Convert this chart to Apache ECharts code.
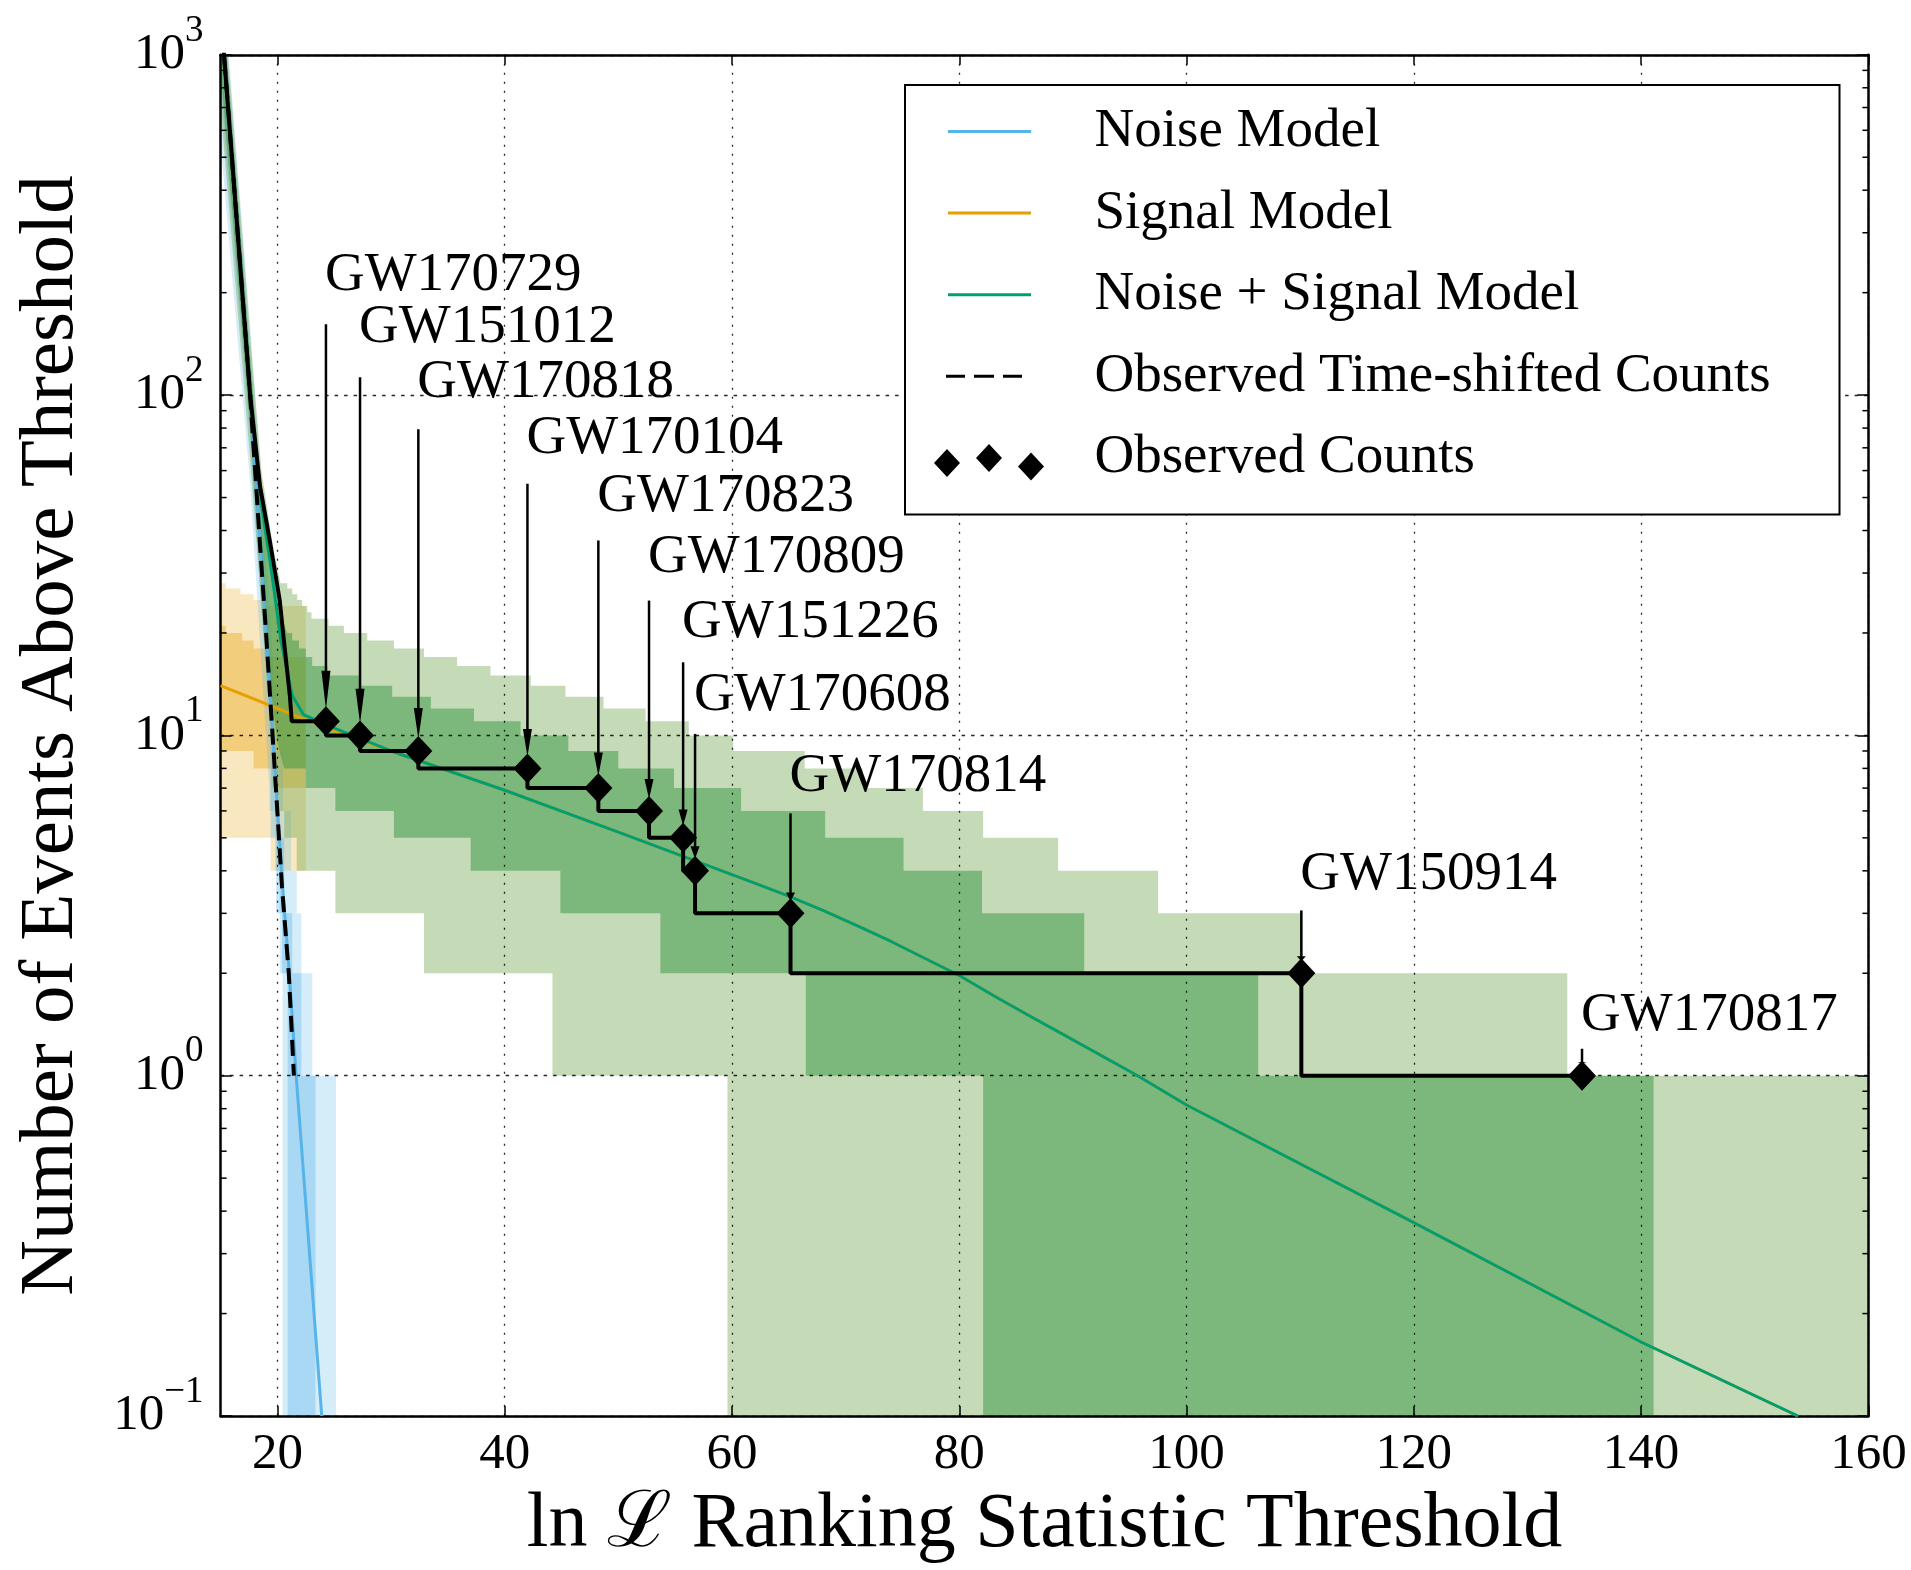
<!DOCTYPE html>
<html><head><meta charset="utf-8">
<script src="https://cdn.jsdelivr.net/npm/echarts@6/dist/echarts.min.js"></script>
<style>html,body{margin:0;padding:0;background:#fff}#c{width:1911px;height:1570px}</style>
</head><body><div id="c"></div>
<script>
// ---------------- DATA ----------------
const xTicks = [20, 40, 60, 80, 100, 120, 140, 160];

// model lines
const noiseX = [15, 17.6, 18.5, 19.4, 20.4, 21.0, 21.65, 23.9];
const noiseY = [1350, 100, 36, 12.5, 3.8, 2.1, 1.0, 0.1];
const signalX = [15, 20, 24, 30, 40, 50, 60, 62, 65, 68, 71, 74, 77, 80, 83, 86, 88.3, 95.7, 100, 120, 140, 153.8];
const signalY = [14, 12.0, 10.6, 9.0, 6.9, 5.2, 3.9, 3.68, 3.37, 3.06, 2.76, 2.48, 2.21, 1.97, 1.72, 1.51, 1.37, 1.0, 0.82, 0.37, 0.165, 0.1];
const nsX = [15, 17.6, 18.5, 19.5, 20.3, 21.3, 22.3, 24.4, 30, 40, 50, 60, 62, 65, 68, 71, 74, 77, 80, 83, 86, 88.3, 95.7, 100, 120, 140, 153.8];
const nsY = [1350, 100, 50, 30, 19, 13.1, 11.5, 10.7, 9.0, 6.9, 5.2, 3.9, 3.68, 3.37, 3.06, 2.76, 2.48, 2.21, 1.97, 1.72, 1.51, 1.37, 1.0, 0.82, 0.37, 0.165, 0.1];
const shiftedX = [15, 17.6, 18.5, 19.0, 19.7, 20.4, 21.0, 21.45];
const shiftedY = [1350, 100, 35, 20, 8.6, 3.6, 2.0, 1.0];

// observed counts
const obsSteepX = [15, 17.6, 18.47, 19.35, 20.2, 20.5, 21.1, 21.26];
const obsSteepY = [1350, 100, 54, 37, 25, 20, 13, 11];
const eventNames = ['GW170729', 'GW151012', 'GW170818', 'GW170104', 'GW170823', 'GW170809', 'GW151226', 'GW170608', 'GW170814', 'GW150914', 'GW170817'];
const eventX = [24.27, 27.27, 32.4, 42.0, 48.24, 52.7, 55.7, 56.75, 65.15, 110.1, 134.8];
const eventCount = [11, 10, 9, 8, 7, 6, 5, 4, 3, 2, 1];
// annotation anchors (data coordinates)
const labelY = [224, 157.6, 109.2, 74.6, 50.4, 33.2, 21.4, 13.1, 7.57, 3.89, 1.505];
const arrowTopY = [161.6, 112.8, 79.4, 54.9, 37.4, 24.9, 16.4, 10.1, 5.9, 3.06, 1.2];

// bands: steep part (polyline points) + step part (edges X, levels Y)
// Signal model
const sigHi2X = [15, 15.45, 16.75, 17.9, 18.8, 22.5];
const sigHi2Y = [28, 27, 26, 25, 24];
const sigLo2X = [15, 19.4, 22.5];
const sigLo2Y = [5, 4];
const sigHi1X = [15, 15.45, 16.9, 17.9, 19.1, 22.5];
const sigHi1Y = [21, 20, 19, 18, 17];
const sigLo1X = [15, 17.9, 19.5, 22.5];
const sigLo1Y = [9, 8, 7];
// Noise model
const noiseHi2Steep = [[15, 2000], [17.6, 160], [18.5, 60], [19.4, 22], [19.9, 11]];
const noiseHi2X = [19.9, 20.5, 21.2, 21.7, 22.1, 23.07, 25.15];
const noiseHi2Y = [9, 6, 4, 3, 2, 1];
const noiseLo2Steep = [[15, 550], [17.6, 55], [18.5, 18], [19.3, 7]];
const noiseLo2X = [19.3, 19.8, 20.2, 20.45, 25.15];
const noiseLo2Y = [6, 4, 2, 0];
const noiseHi1Steep = [[15, 1600], [17.6, 125], [18.5, 45], [19.4, 16], [20.0, 7]];
const noiseHi1X = [20.0, 20.6, 21.3, 22.1, 23.35];
const noiseHi1Y = [5, 3, 2, 1];
const noiseLo1Steep = [[15, 800], [17.6, 75], [18.5, 26], [19.4, 9.5]];
const noiseLo1X = [19.4, 19.9, 20.4, 20.9, 23.35];
const noiseLo1Y = [5, 3, 2, 0];
// Noise + Signal model
const nsHi2Steep = [[15, 1900], [17.6, 150], [18.6, 60], [19.6, 36], [20.28, 28]];
const nsHi2X = [20.28, 20.87, 21.3, 21.74, 22.18, 22.62, 23.0, 24.5, 25.85, 27.9, 30.25, 32.9, 35.8, 38.75, 42.3, 45.35, 48.7, 52.4, 56.2, 60.1, 66.4, 71.5, 76.8, 82.1, 88.7, 97.5, 110.2, 133.5, 160];
const nsHi2Y = [28, 27, 26, 25, 24, 23, 22, 21, 20, 19, 18, 17, 16, 15, 14, 13, 12, 11, 10, 9, 8, 7, 6, 5, 4, 3, 2, 1];
const nsLo2Steep = [[15, 700], [17.6, 65], [18.5, 26], [19.4, 11], [20.0, 7]];
const nsLo2X = [20.0, 20.6, 21.7, 25.1, 32.9, 44.2, 59.6, 160];
const nsLo2Y = [6, 5, 4, 3, 2, 1, 0];
const nsHi1Steep = [[15, 1700], [17.6, 130], [18.6, 50], [19.6, 30], [20.4, 22], [20.87, 20]];
const nsHi1X = [20.87, 21.3, 21.9, 22.5, 23.06, 24.4, 27.2, 30.1, 33.5, 37.3, 41.4, 45.6, 50.0, 54.9, 60.8, 68.2, 75.1, 82.0, 91.0, 106.3, 141.1];
const nsHi1Y = [20, 19, 18, 17, 16, 15, 14, 13, 12, 11, 10, 9, 8, 7, 6, 5, 4, 3, 2, 1];
const nsLo1Steep = [[15, 900], [17.6, 80], [18.5, 32], [19.4, 14], [20.0, 9.5], [20.6, 8]];
const nsLo1X = [20.6, 22.5, 25.1, 30.25, 37.0, 44.9, 53.7, 66.5, 82.1, 141.1];
const nsLo1Y = [8, 7, 6, 5, 4, 3, 2, 1, 0];

// ---------------- BUILD ----------------
const F = "'Liberation Serif', 'DejaVu Serif', serif";
const FLOOR = 0.02;
const zip = (xs, ys) => xs.map((x, i) => [x, ys[i]]);
function stepEdge(steep, xs, ys) {
  const pts = steep.map(p => [p[0], p[1]]);
  for (let i = 0; i < ys.length; i++) { pts.push([xs[i], ys[i]]); pts.push([xs[i + 1], ys[i]]); }
  return pts.map(p => [p[0], Math.max(p[1], FLOOR)]);
}
function bandPoly(hs, hx, hy, ls, lx, ly) {
  return stepEdge(hs, hx, hy).concat(stepEdge(ls, lx, ly).reverse());
}
const bandDefs = [
  { poly: bandPoly([], sigHi2X, sigHi2Y, [], sigLo2X, sigLo2Y), fill: 'rgba(230,159,0,0.25)' },
  { poly: bandPoly([], sigHi1X, sigHi1Y, [], sigLo1X, sigLo1Y), fill: 'rgba(230,159,0,0.35)' },
  { poly: bandPoly(noiseHi2Steep, noiseHi2X, noiseHi2Y, noiseLo2Steep, noiseLo2X, noiseLo2Y), fill: 'rgba(86,180,233,0.25)' },
  { poly: bandPoly(noiseHi1Steep, noiseHi1X, noiseHi1Y, noiseLo1Steep, noiseLo1X, noiseLo1Y), fill: 'rgba(86,180,233,0.35)' },
  { poly: bandPoly(nsHi2Steep, nsHi2X, nsHi2Y, nsLo2Steep, nsLo2X, nsLo2Y), fill: 'rgba(110,165,75,0.40)' },
  { poly: bandPoly(nsHi1Steep, nsHi1X, nsHi1Y, nsLo1Steep, nsLo1X, nsLo1Y), fill: 'rgba(51,149,65,0.50)' }
];

const obsLine = zip(obsSteepX, obsSteepY);
eventX.forEach((x, i) => {
  obsLine.push([x, eventCount[i]]);
  if (i < eventX.length - 1) obsLine.push([x, eventCount[i + 1]]);
});

const CORNERS = 'M0,0L0.01,0L0,0.01Z M110,50L109.99,50L110,49.99Z ';
const ICON_SOLID = 'path://' + CORNERS + 'M14,23.5H97V26.5H14Z';
const ICON_DASH = 'path://' + CORNERS + 'M12,23.5H31V26.5H12Z M40,23.5H60V26.5H40Z M69,23.5H88V26.5H69Z';
const ICON_DIAM = 'path://' + CORNERS + 'M0,30L13,16L26,30L13,44Z M42,25L55,11L68,25L55,39Z M84,33.5L97,19.5L110,33.5L97,47.5Z';

const gridLine = { color: '#000', width: 1.3, opacity: 0.85 };

const chart = echarts.init(document.getElementById('c'), null, { renderer: 'canvas' });
chart.setOption({
  animation: false,
  backgroundColor: '#fff',
  grid: { left: 220.6, right: 42.6, top: 54.8, bottom: 141.6, containLabel: false },
  legend: {
    left: 905, top: 85, orient: 'vertical', z: 10,
    padding: [19, 25, 29, 29],
    itemGap: 26.6, itemWidth: 110, itemHeight: 50,
    backgroundColor: '#fff', borderColor: '#000', borderWidth: 2,
    selectedMode: false,
    itemStyle: { borderWidth: 0, opacity: 1 },
    textStyle: { fontFamily: F, fontSize: 55, color: '#000', padding: [0, 0, 0, 45.5], width: 720, lineHeight: 50 },
    data: [
      { name: 'Noise Model', icon: ICON_SOLID },
      { name: 'Signal Model', icon: ICON_SOLID },
      { name: 'Noise + Signal Model', icon: ICON_SOLID },
      { name: 'Observed Time-shifted Counts', icon: ICON_DASH },
      { name: 'Observed Counts', icon: ICON_DIAM }
    ]
  },
  xAxis: [{
    type: 'value', min: 15, max: 160, position: 'bottom', z: 3,
    name: 'ln ℒ Ranking Statistic Threshold', nameLocation: 'middle', nameGap: 71,
    nameTextStyle: { fontFamily: F, fontSize: 78, color: '#000' },
    axisLine: { show: true, lineStyle: { color: '#000', width: 2.5 } },
    axisTick: { show: true, inside: true, length: 10, customValues: xTicks, lineStyle: { color: '#000', width: 1.5 } },
    axisLabel: { customValues: xTicks, margin: 13, color: '#000', fontSize: 51, fontFamily: F },
    splitLine: { show: true, lineStyle: Object.assign({ type: [2, 7] }, gridLine) }
  }, {
    type: 'value', min: 15, max: 160, position: 'top', z: 3,
    axisLine: { show: true, lineStyle: { color: '#000', width: 2.5 } },
    axisTick: { show: true, inside: true, length: 10, customValues: xTicks, lineStyle: { color: '#000', width: 1.5 } },
    axisLabel: { show: false }, splitLine: { show: false }
  }],
  yAxis: [{
    type: 'log', logBase: 10, min: 0.1, max: 1000, z: 3,
    name: 'Number of Events Above Threshold', nameLocation: 'middle', nameGap: 130,
    nameTextStyle: { fontFamily: F, fontSize: 77, color: '#000' },
    axisLine: { show: true, lineStyle: { color: '#000', width: 2.5 } },
    axisTick: { show: true, inside: true, length: 11, lineStyle: { color: '#000', width: 1.5 } },
    axisLabel: {
      margin: 17, color: '#000', fontFamily: F,
      formatter: v => {
        const e = Math.round(Math.log10(v));
        return '{b|10}{s|' + (e < 0 ? '\u2212' + (-e) : e) + '}';
      },
      rich: {
        b: { fontSize: 51, fontFamily: F, color: '#000' },
        s: { fontSize: 37, fontFamily: F, color: '#000', padding: [0, 0, 48, 0] }
      }
    },
    splitLine: { show: true, lineStyle: Object.assign({ type: [3.5, 6] }, gridLine) }
  }, {
    type: 'log', logBase: 10, min: 0.1, max: 1000, position: 'right', z: 3,
    axisLine: { show: true, lineStyle: { color: '#000', width: 2.5 } },
    axisTick: { show: true, inside: true, length: 11, lineStyle: { color: '#000', width: 1.5 } },
    axisLabel: { show: false }, splitLine: { show: false }
  }],
  series: [
    {
      type: 'custom', name: 'bands', coordinateSystem: 'cartesian2d', z: 1, silent: true, clip: true,
      data: bandDefs.map((b, i) => [20, 1, i]), encode: { x: 0, y: 1 },
      renderItem: (params, api) => {
        const b = bandDefs[params.dataIndex];
        return { type: 'polygon', shape: { points: b.poly.map(p => api.coord(p)) }, style: { fill: b.fill } };
      }
    },
    { name: 'Signal Model', type: 'line', data: zip(signalX, signalY), symbol: 'none', color: '#e69f00', lineStyle: { color: '#e69f00', width: 3 }, z: 5, silent: true },
    { name: 'Noise + Signal Model', type: 'line', data: zip(nsX, nsY), symbol: 'none', color: '#009e73', lineStyle: { color: '#009e73', width: 3 }, z: 5, silent: true },
    { name: 'Noise Model', type: 'line', data: zip(noiseX, noiseY), symbol: 'none', color: '#56b4e9', lineStyle: { color: '#56b4e9', width: 3 }, z: 5, silent: true },
    { name: 'Observed Time-shifted Counts', type: 'line', data: zip(shiftedX, shiftedY), symbol: 'none', color: '#000', lineStyle: { color: '#000', width: 4, type: [16, 8] }, z: 5, silent: true },
    { name: 'Observed Counts Line', type: 'line', data: obsLine, symbol: 'none', color: '#000', lineStyle: { color: '#000', width: 4 }, z: 5, silent: true },
    {
      type: 'custom', name: 'annotations', coordinateSystem: 'cartesian2d', z: 6, silent: true, clip: false,
      data: eventX.map((x, i) => [x, eventCount[i], i]), encode: { x: 0, y: 1 },
      renderItem: (params, api) => {
        const i = params.dataIndex;
        const p0 = api.coord([eventX[i], arrowTopY[i]]);
        const pd = api.coord([eventX[i], eventCount[i]]);
        const pl = api.coord([eventX[i], labelY[i]]);
        const tipY = pd[1] - 12;
        const head = (tipY - p0[1]) * 0.1;
        return {
          type: 'group', children: [
            { type: 'line', shape: { x1: p0[0], y1: p0[1], x2: p0[0], y2: tipY - head * 0.5 }, style: { stroke: '#000', lineWidth: 2.5 } },
            { type: 'polygon', shape: { points: [[p0[0] - 4.5, tipY - head], [p0[0] + 4.5, tipY - head], [p0[0], tipY]] }, style: { fill: '#000' } },
            { type: 'text', style: { text: eventNames[i], x: pl[0] - 1, y: pl[1], fill: '#000', font: '55px ' + F, align: 'left', verticalAlign: 'middle' } }
          ]
        };
      }
    },
    { name: 'Observed Counts', type: 'scatter', data: zip(eventX, eventCount), symbol: 'diamond', symbolSize: [28, 30], color: '#000', itemStyle: { color: '#000', opacity: 1 }, z: 7, silent: true },
    {
      type: 'custom', name: 'minorTicks', coordinateSystem: 'cartesian2d', z: 8, silent: true, clip: false,
      data: [[20, 1]], encode: { x: 0, y: 1 },
      renderItem: (params, api) => {
        const children = [];
        [0.1, 1, 10, 100].forEach(d => {
          for (let m = 2; m <= 9; m++) {
            const pl = api.coord([15, d * m]);
            const pr = api.coord([160, d * m]);
            children.push({ type: 'line', shape: { x1: pl[0], y1: pl[1], x2: pl[0] + 6, y2: pl[1] }, style: { stroke: '#000', lineWidth: 1.5 } });
            children.push({ type: 'line', shape: { x1: pr[0] - 6, y1: pr[1], x2: pr[0], y2: pr[1] }, style: { stroke: '#000', lineWidth: 1.5 } });
          }
        });
        return { type: 'group', children };
      }
    }
  ]
});
</script>
</body></html>
